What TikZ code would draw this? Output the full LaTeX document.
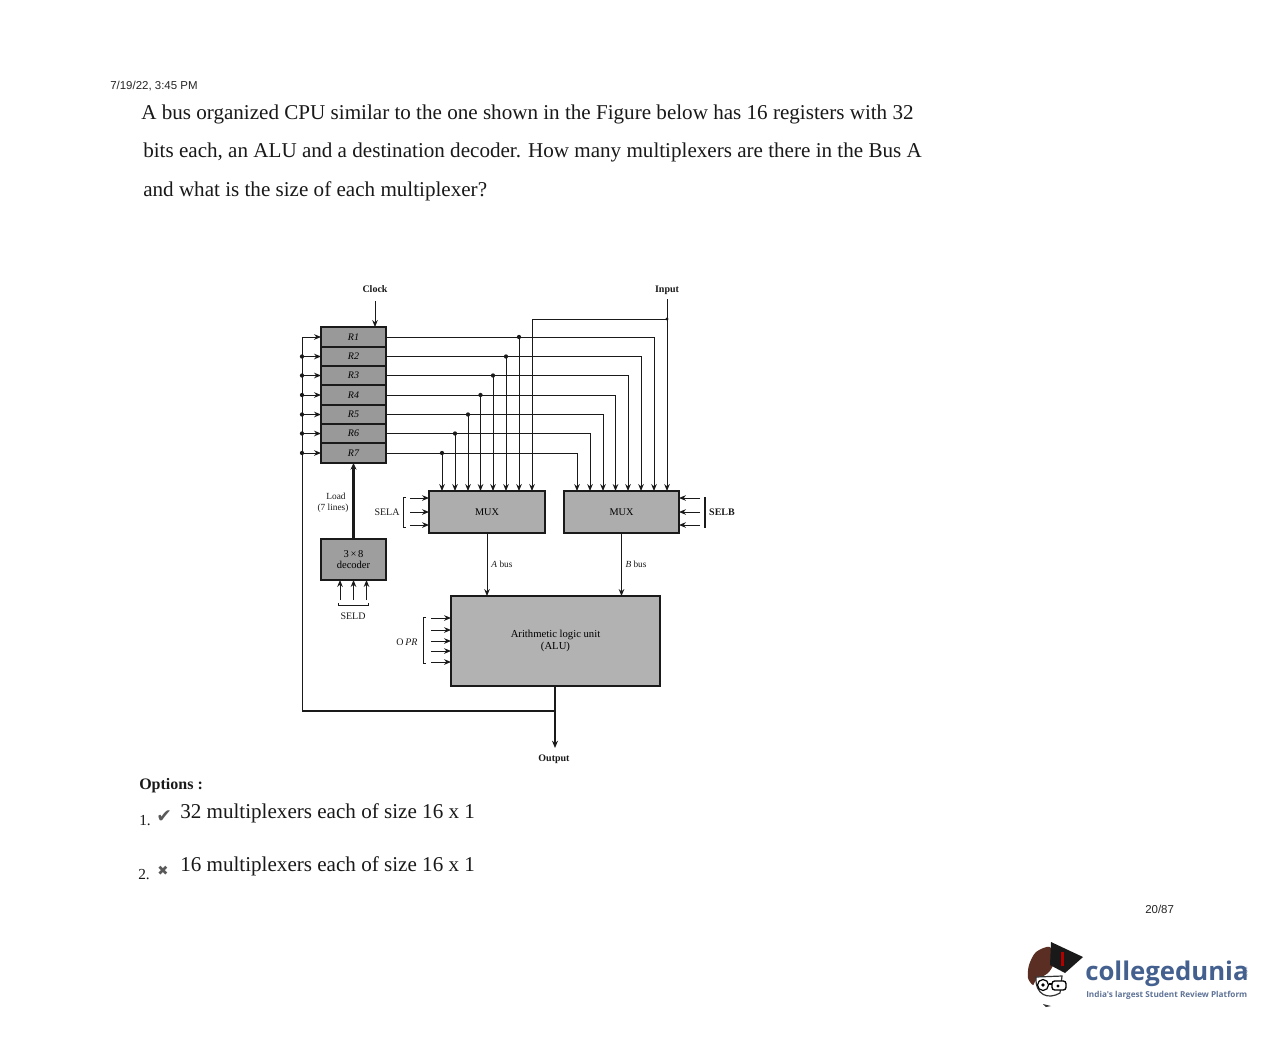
\documentclass[tikz,border=0pt]{standalone}
\usepackage{fontspec}
\setmainfont{Liberation Serif}
\newfontfamily\arialf{Liberation Sans}
\newfontfamily\dejavuf{DejaVu Sans}
\newfontfamily\logof{Open Sans}
\usetikzlibrary{arrows.meta,calc}
\definecolor{logoblue}{HTML}{44608F}
\definecolor{logosub}{HTML}{5F7396}
\definecolor{inkc}{HTML}{1A1A1A}
\definecolor{hairc}{HTML}{5A2E22}
\tikzset{
  regbox/.style={draw=inkc,line width=1pt,fill=black!40,minimum width=48.75pt,inner sep=0pt,outer sep=0pt,font=\fontsize{7.5}{8}\selectfont\itshape},
  unitbox/.style={draw=inkc,line width=1.1pt,fill=black!32,inner sep=0pt,outer sep=0pt,font=\fontsize{7.7}{9}\selectfont,align=center},
  wire/.style={draw=inkc,line width=0.75pt},
  feed/.style={wire,-{Stealth[length=5.2pt,width=4.2pt]}},
  heavy/.style={draw=inkc,line width=1.6pt},
  dotm/.style={circle,fill=inkc,inner sep=0pt,minimum size=3.2pt},
  lab/.style={inner sep=0pt,text=inkc,font=\fontsize{7.5}{8.5}\selectfont,align=center},
  para/.style={anchor=base west,inner sep=0pt,text=black!90,font=\fontsize{15.82}{18}\selectfont},
  small/.style={anchor=base west,inner sep=0pt,font=\arialf\fontsize{8.6}{10}\selectfont,text=black!85},
}
\begin{document}
\begin{tikzpicture}[x=0.75pt,y=-0.75pt]
\useasboundingbox[fill=white] (0,0) rectangle (1284,1046);
% page text
\node[small] (stamp) at (110,89) {7/19/22, 3:45 PM};
\node[para] (q1) at (141,119) {A bus organized CPU similar to the one shown in the Figure below has 16 registers with 32};
\node[para] (q2) at (143,157) {bits each, an ALU and a destination decoder. How many multiplexers are there in the Bus A};
\node[para] (q3) at (143,196) {and what is the size of each multiplexer?};
\node[para,font=\bfseries\fontsize{12}{14}\selectfont] (opts) at (139,789) {Options :};
\node[para,font=\fontsize{11.5}{13}\selectfont] (n1) at (139,825) {1.};
\node[para,font=\dejavuf\fontsize{14}{16}\selectfont,text=black!65] (chk) at (156,822) {✔};
\node[para] (o1) at (180,818) {32 multiplexers each of size 16 x 1};
\node[para,font=\fontsize{11.5}{13}\selectfont] (n2) at (138,879) {2.};
\node[para,font=\dejavuf\fontsize{10}{12}\selectfont,text=black!65] (crs) at (157,875) {✖};
\node[para] (o2) at (180,871) {16 multiplexers each of size 16 x 1};
\node[small] (pg) at (1145,913) {20/87};

% registers
\node[regbox,minimum height=15pt] (R1) at (353.5,337) {R1};
\node[regbox,minimum height=14.25pt] (R2) at (353.5,356.5) {R2};
\node[regbox,minimum height=14.25pt] (R3) at (353.5,375.5) {R3};
\node[regbox,minimum height=15pt] (R4) at (353.5,395) {R4};
\node[regbox,minimum height=14.25pt] (R5) at (353.5,414.5) {R5};
\node[regbox,minimum height=14.25pt] (R6) at (353.5,433.5) {R6};
\node[regbox,minimum height=15pt] (R7) at (353.5,453) {R7};

% units
\node[unitbox,minimum width=87pt,minimum height=31.5pt] (muxA) at (487,512) {MUX};
\node[unitbox,minimum width=86.25pt,minimum height=31.5pt] (muxB) at (621.5,512) {MUX};
\node[unitbox,fill=black!38,minimum width=48.75pt,minimum height=30.75pt,font=\fontsize{7.9}{8.6}\selectfont] (dec) at (353.5,559.5) {\raisebox{-1.2pt}{3\,×\,8}\\\raisebox{-1.2pt}{decoder}};
\node[unitbox,fill=black!30,minimum width=156.75pt,minimum height=67.5pt,font=\fontsize{8}{9}\selectfont] (alu) at (555.5,641) {Arithmetic logic unit\\(ALU)};

% labels
\node[lab,font=\bfseries\fontsize{7.5}{8.5}\selectfont] (clk) at (375,289) {Clock};
\node[lab,font=\bfseries\fontsize{7.5}{8.5}\selectfont] (inp) at (667,290) {Input};
\node[lab,font=\bfseries\fontsize{7.5}{8.5}\selectfont] (outp) at (554,759) {Output};
\node[lab,font=\fontsize{7}{8}\selectfont] (loadA) at (336,496) {Load};
\node[lab,font=\fontsize{7}{8}\selectfont] (loadB) at (333,508) {(7 lines)};
\node[lab] (sela) at (387,512) {SELA};
\node[lab,font=\bfseries\fontsize{7.5}{8.5}\selectfont] (selb) at (722,512) {SELB};
\node[lab] (seld) at (353,616) {SELD};
\node[lab] (opr) at (407,642) {O\,\textit{PR}};
\node[lab,font=\fontsize{7}{8}\selectfont] (abus) at (502,564) {\textit{A} bus};
\node[lab,font=\fontsize{7}{8}\selectfont] (bbus) at (636,564) {\textit{B} bus};

% free ends
\coordinate (clkS) at (375,301);
\coordinate (inS) at (667,299);
\coordinate (inJ) at (667,319);
\coordinate (outE) at (555,748);
\coordinate (fbJ) at (555,711);
\coordinate (fbC) at (302,711);
\coordinate (fbT) at (302,337);

% clock, input
\draw[feed] (clkS) -- (clkS |- R1.north);
\draw[feed] (inS) -- (inS |- muxB.north);
\draw[wire] (inJ) -- (532,319) coordinate (aI);
\draw[feed] (aI) -- (aI |- muxA.north);
\node[dotm,minimum size=2.5pt] (inD) at (inJ) {};

% register outputs to MUX B
\foreach \r/\bx in {R1/654,R2/641,R3/628,R4/615.5,R5/603,R6/590,R7/577}{
  \coordinate (b\r) at (\bx,491);
  \draw[feed] (\r.east) -| (b\r);
}
% taps to MUX A
\foreach \r/\ax in {R1/519,R2/506,R3/493,R4/480.5,R5/468,R6/455,R7/442}{
  \coordinate (a\r) at (\ax,491);
  \draw[feed] (\r.east -| a\r) -- (a\r);
  \node[dotm] at (\r.east -| a\r) {};
}

% feedback bus
\draw[wire] (fbT) -- (fbC);
\draw[heavy] (fbC) -- (fbJ);
\draw[heavy,-{Stealth[length=5.5pt,width=4.5pt]}] (alu.south -| fbJ) -- (outE);
\foreach \r in {R1,R2,R3,R4,R5,R6,R7}{
  \draw[feed] (\r.west -| fbT) -- (\r.west);
}
\foreach \r in {R2,R3,R4,R5,R6,R7}{
  \node[dotm] at (\r.west -| fbT) {};
}

% buses
\draw[feed] (muxA.south) -- (muxA.south |- alu.north);
\draw[feed] (muxB.south) -- (muxB.south |- alu.north);
\draw[line width=2.2pt,draw=inkc,-{Stealth[length=5pt,width=4.5pt]}] (dec.north) -- (R7.south);

% control arrows
\foreach \y in {498,512,525}{
  \coordinate (sa) at (410,\y);
  \draw[feed] (sa) -- (sa -| muxA.west);
  \coordinate (sb) at (700,\y);
  \draw[feed] (sb) -- (sb -| muxB.east);
}
\foreach \x in {340,353.5,366.5}{
  \coordinate (sd) at (\x,600);
  \draw[feed] (sd) -- (sd |- dec.south);
}
\foreach \y in {618,630,641,651,662}{
  \coordinate (op) at (431,\y);
  \draw[feed] (op) -- (op -| alu.west);
}
% grouping brackets
\draw[wire,line width=0.5pt] (406,497) -- (403.5,497) -- (403.5,527) -- (406,527);
\draw[wire,line width=1.2pt] (705,497) -- (705,528);
\draw[wire,line width=0.5pt] (338,603) -- (338,605) -- (368,605) -- (368,603);
\draw[wire,line width=0.5pt] (426,617) -- (423.5,617) -- (423.5,663) -- (426,663);

% logo
\fill[hairc] plot[smooth cycle] coordinates {(1029,965) (1036,952) (1050,947) (1054,962) (1048,973) (1036,980) (1033,985) (1028,978)};
\draw[black!80,line width=0.9pt,fill=white] (1036,977) .. controls (1035,995) and (1048,1000) .. (1060,993) -- (1062,976) -- cycle;
\fill[black!90] (1051,942) -- (1083,957) -- (1065,973) -- (1050,965) -- cycle;
\fill[red!70!black] (1061,952) -- (1064,952) -- (1064,966) -- (1061,966) -- cycle;
\draw[black,line width=0.9pt,fill=white] (1043,985) circle (5.5);
\draw[black,line width=1pt,fill=white,rounded corners=2pt] (1052,981) rectangle (1066,990);
\draw[black,line width=0.8pt] (1048.5,984) -- (1052,984);
\fill[black] (1043,985) circle (1.8);
\fill[black] (1058,986) circle (1.6);
\fill[black!80] (1043,1004) -- (1051,1006) -- (1046,1007) -- cycle;
\node[anchor=base west,inner sep=0pt,text=logoblue,font=\logof\bfseries\fontsize{19.3}{22}\selectfont] (brand) at (1085,980) {collegedunia};
\node[anchor=base west,inner sep=0pt,text=logosub,font=\logof\bfseries\fontsize{6.15}{8}\selectfont] (tag) at (1086,997) {India's largest Student Review Platform};
\node[inner sep=0pt,text=logoblue,rotate=90,font=\logof\fontsize{3.6}{4}\selectfont] (dom) at (1246,972) {.com};
\end{tikzpicture}
\end{document}
